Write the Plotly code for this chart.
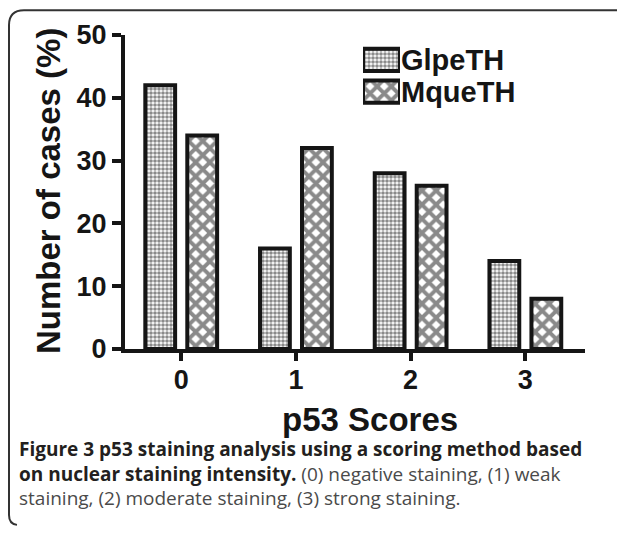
import plotly.graph_objects as go

# ---- data ----
categories = ["0", "1", "2", "3"]
series_names = ["GlpeTH", "MqueTH"]
glpe_values = [42, 16, 28, 14]
mque_values = [34, 32, 26, 8]
y_ticks = [0, 10, 20, 30, 40, 50]
x_title = "p53 Scores"
y_title = "Number of cases (%)"
caption_bold_1 = "Figure 3 p53 staining analysis using a scoring method based"
caption_bold_2 = "on nuclear staining intensity."
caption_reg_2 = "(0) negative staining, (1) weak"
caption_reg_3 = "staining, (2) moderate staining, (3) strong staining."

# ---- geometry (page pixels; the page body has an 8px margin on every side) ----
OFF = 8
PAGE_W, PAGE_H = 625, 535
W, H = PAGE_W - 2 * OFF, PAGE_H - 2 * OFF
PL, PR, PT, PB = 125, 585, 33, 349          # plot area in page pixels
PW, PH = PR - PL, PB - PT


def px(x):
    return (x - PL) / PW


def py(y):
    return (PB - y) / PH


INK = "#151515"
patterns = [dict(shape=".", size=4, solidity=0.65),
            dict(shape="x", size=10, solidity=0.62)]

fig = go.Figure()
for name, vals, pat in zip(series_names, [glpe_values, mque_values], patterns):
    fig.add_trace(go.Bar(
        x=categories, y=vals, name=name,
        marker=dict(color="white", line=dict(color=INK, width=4),
                    pattern=dict(fgcolor=INK, bgcolor="white", **pat)),
        showlegend=False, hoverinfo="skip"))

# legend keys drawn as a small horizontal bar subplot
fig.add_trace(go.Bar(
    x=[1] * len(series_names), y=series_names, orientation="h",
    xaxis="x2", yaxis="y2", width=0.7, showlegend=False, hoverinfo="skip",
    marker=dict(color="white", line=dict(color=INK, width=4),
                pattern=dict(fgcolor=INK, bgcolor="white",
                             shape=[p["shape"] for p in patterns],
                             size=[p["size"] for p in patterns],
                             solidity=[p["solidity"] for p in patterns]))))

bold = dict(family="Liberation Sans, Arial, sans-serif", color=INK, weight="bold")

fig.update_layout(
    width=W, height=H,
    margin=dict(l=PL - OFF, r=PAGE_W - OFF - PR, t=PT - OFF, b=PAGE_H - OFF - PB),
    paper_bgcolor="white", plot_bgcolor="white",
    barmode="group", bargap=0.268, bargroupgap=0.29,
    xaxis=dict(range=[-0.49, 3.52], showline=True, linewidth=4, linecolor=INK,
               ticks="outside", ticklen=8, tickwidth=4, tickcolor=INK,
               ticklabelstandoff=-4,
               tickfont=dict(size=27, **bold), showgrid=False, zeroline=False),
    yaxis=dict(range=[0, 50], tickvals=y_ticks, showline=True, linewidth=4, linecolor=INK,
               ticks="outside", ticklen=9, tickwidth=4, tickcolor=INK,
               tickfont=dict(size=27, **bold), showgrid=False, zeroline=False),
    xaxis2=dict(domain=[px(363), px(400)], range=[0, 1], visible=False, anchor="y2",
                fixedrange=True),
    yaxis2=dict(domain=[py(106), py(42)], anchor="x2", side="right",
                range=[1.5, -0.5], tickmode="array", tickvals=series_names,
                ticktext=series_names, showline=False, ticks="", showgrid=False,
                zeroline=False, tickfont=dict(size=29, **bold)),
)

# axis titles
fig.add_annotation(text=y_title, xref="paper", yref="paper", x=px(48), y=py(190),
                   textangle=-90, showarrow=False, xanchor="center", yanchor="middle",
                   font=dict(size=33, **bold))
fig.add_annotation(text=x_title, xref="paper", yref="paper", x=px(370), y=py(420),
                   showarrow=False, xanchor="center", yanchor="middle",
                   font=dict(size=33, **bold))

# caption
caption = ("<b>" + caption_bold_1 + "</b><br>"
           "<b>" + caption_bold_2 + "</b> <span style='color:#4a4a4a'>" + caption_reg_2 + "</span><br>"
           "<span style='color:#4a4a4a'>" + caption_reg_3 + "</span>")
fig.add_annotation(text=caption, xref="paper", yref="paper", x=px(17), y=py(474),
                   showarrow=False, xanchor="left", yanchor="middle", align="left",
                   font=dict(family="Open Sans, sans-serif", size=19, color="#231f20"))

# rounded frame
pts = "M {a},{b} L {c},{b} Q {d},{b} {d},{e} L {d},{f} Q {d},{g} {h},{i}".format(
    a=px(PAGE_W - OFF), b=py(8), c=px(24), d=px(9), e=py(23), f=py(516), g=py(525),
    h=px(17), i=py(526))
fig.add_shape(type="path", path=pts, xref="paper", yref="paper",
              line=dict(color="#333333", width=2), layer="above")

fig.write_html("out.html")
